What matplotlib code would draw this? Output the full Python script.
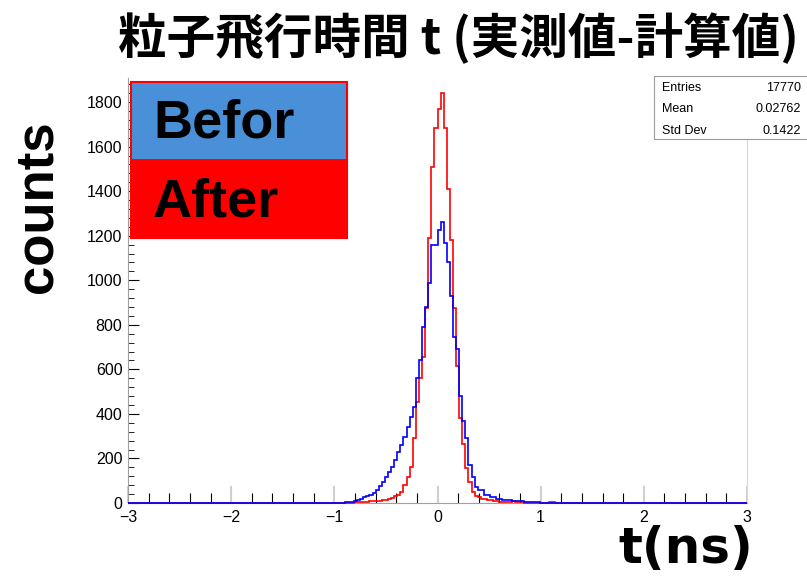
import numpy as np
import matplotlib
matplotlib.use('Agg')
import matplotlib.pyplot as plt
from matplotlib.patches import Rectangle
from matplotlib.ticker import MultipleLocator

plt.rcParams['font.family'] = ['Liberation Sans', 'Noto Sans CJK JP', 'DejaVu Sans']

# histogram definition: 200 bins over [-3, 3] ns
n_bins = 200
t_min, t_max = -3.0, 3.0

# bin contents, listed from the first filled bin onward (everything else is empty)
before_first_edge = -1.05
before_counts = [1, 2, 1, 2, 2, 3, 4, 5,
                 9, 12, 16, 25, 30, 36, 43, 58, 75, 95, 115, 140, 163, 193, 230,
                 260, 298, 342, 387, 432, 560, 640, 791, 881, 986, 1158, 1158,
                 1225, 1263, 1169, 1083, 929, 745, 692, 480, 370, 290, 171, 118,
                 73, 58, 58, 36, 36, 28, 28, 20, 20, 15, 15, 12, 10, 10, 8, 8,
                 6, 5, 5, 4, 3, 2, 1, 2, 0, 1, 0, 2, 1]

after_first_edge = -0.84
after_counts = [2, 3, 3, 4, 5, 6, 8, 9, 10, 10, 12, 15, 18, 22, 30, 36, 51, 81,
                118, 163, 290, 455, 560, 657, 874, 1189, 1510, 1684,
                1768, 1842, 1682, 1409, 1182, 874, 615, 380, 265, 156, 95, 50,
                30, 28, 20, 20, 13, 13, 10, 8, 6, 6, 5, 4, 8, 6, 3, 4, 2, 2,
                1, 1, 0, 2, 0, 0, 4, 3]

stat_names = ['Entries', 'Mean', 'Std Dev']
stat_values = ['17770', '0.02762', '0.1422']

legend_labels = ['Befor', 'After']
legend_colors = ['#4a90d9', '#ff0000']

title = '粒子飛行時間 t (実測値-計算値)'

edges = np.linspace(t_min, t_max, n_bins + 1)
width = (t_max - t_min) / n_bins


def fill_hist(first_edge, counts):
    h = np.zeros(n_bins)
    i0 = int(round((first_edge - t_min) / width))
    h[i0:i0 + len(counts)] = counts
    return h


h_before = fill_hist(before_first_edge, before_counts)
h_after = fill_hist(after_first_edge, after_counts)

W, H = 807, 576
fig = plt.figure(figsize=(W / 100, H / 100), dpi=100)


def fx(px):
    return px / W


def fy(py):
    return 1 - py / H


ax = fig.add_axes([fx(128), fy(503), fx(747) - fx(128), fy(78) - fy(503)])
ax.stairs(h_after, edges, color='#ff0000', lw=1.2, clip_on=False, zorder=3)
ax.stairs(h_before, edges, color='#0000ff', lw=1.2, clip_on=False, zorder=4)
ax.set_xlim(t_min, t_max)
ax.set_ylim(0, 1908)

ax.set_xticks(np.arange(-3, 4, 1))
ax.xaxis.set_minor_locator(MultipleLocator(0.2))
ax.set_yticks(np.arange(0, 1801, 200))
ax.yaxis.set_minor_locator(MultipleLocator(40))
ax.tick_params(axis='x', which='major', direction='in', length=12, width=1.5,
               color='#cfcfcf', labelsize=11.5, pad=5)
ax.tick_params(axis='x', which='minor', direction='in', length=7, width=0.8,
               color='black')
ax.tick_params(axis='y', which='major', direction='in', length=8, width=0.8,
               color='black', labelsize=11.5, pad=4)
ax.tick_params(axis='y', which='minor', direction='in', length=4, width=0.6,
               color='black')
for side in ['left', 'bottom']:
    ax.spines[side].set_color('#a0a0a0')
ax.spines['right'].set_color('#d8d8d8')
ax.spines['top'].set_visible(False)

# title and axis captions
fig.text(fx(458), fy(38), title, fontsize=35, fontweight='bold',
         family=['Noto Sans CJK JP'], ha='center', va='center')
fig.text(fx(52), fy(207), 'counts', fontsize=38, fontweight='bold',
         rotation=90, rotation_mode='anchor', ha='center', va='baseline')
fig.text(fx(686), fy(563), 't(ns)', fontsize=36, fontweight='bold',
         family=['DejaVu Sans'], ha='center', va='baseline')

# coloured legend block
box_l, box_r, box_t, box_m, box_b = 131, 347, 82, 159, 238
fig.patches.append(Rectangle((fx(box_l), fy(box_m)), fx(box_r) - fx(box_l),
                             fy(box_t) - fy(box_m), transform=fig.transFigure,
                             facecolor=legend_colors[0], edgecolor='none'))
fig.patches.append(Rectangle((fx(box_l), fy(box_b)), fx(box_r) - fx(box_l),
                             fy(box_m) - fy(box_b), transform=fig.transFigure,
                             facecolor=legend_colors[1], edgecolor='none'))
fig.patches.append(Rectangle((fx(box_l), fy(box_b)), fx(box_r) - fx(box_l),
                             fy(box_t) - fy(box_b), transform=fig.transFigure,
                             fill=False, edgecolor='#ff0000', lw=1.5))
fig.text(fx(153), fy(138), legend_labels[0], fontsize=39, fontweight='bold',
         ha='left', va='baseline')
fig.text(fx(153), fy(216.5), legend_labels[1], fontsize=39, fontweight='bold',
         ha='left', va='baseline')

# statistics box
fig.patches.append(Rectangle((fx(654), fy(139)), fx(812) - fx(654),
                             fy(76) - fy(139), transform=fig.transFigure,
                             facecolor='white', edgecolor='#9a9a9a', lw=0.8))
for i, (name, val) in enumerate(zip(stat_names, stat_values)):
    yy = fy(91 + 21.5 * i)
    fig.text(fx(662), yy, name, fontsize=9, ha='left', va='baseline')
    fig.text(fx(801), yy, val, fontsize=9, ha='right', va='baseline')

fig.savefig('out.png', dpi=100)
